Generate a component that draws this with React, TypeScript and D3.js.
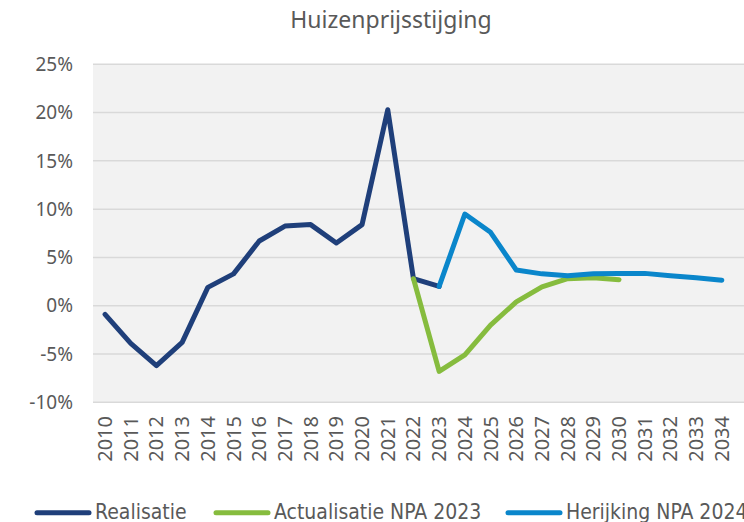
import React from "react";
import * as d3 from "d3";

const years = d3.range(2010, 2035).map(String);
const yTicks = [-10, -5, 0, 5, 10, 15, 20, 25];

const realisatieYears = years.slice(0, 14); // 2010-2023
const realisatie = [-0.9, -3.9, -6.2, -3.8, 1.9, 3.3, 6.7, 8.25, 8.4, 6.5, 8.4, 20.3, 2.8, 2.0];

const actualisatieYears = years.slice(12, 21); // 2022-2030
const actualisatie = [2.8, -6.8, -5.1, -2.0, 0.4, 1.95, 2.8, 2.9, 2.7];

const herijkingYears = years.slice(13); // 2023-2034
const herijking = [2.0, 9.5, 7.6, 3.7, 3.3, 3.1, 3.3, 3.35, 3.35, 3.1, 2.9, 2.65];

const series = [
  { name: "Realisatie", color: "#1f3f7a", years: realisatieYears, values: realisatie, legendX: 35, textX: 95 },
  { name: "Actualisatie NPA 2023", color: "#86bc3e", years: actualisatieYears, values: actualisatie, legendX: 214, textX: 274 },
  { name: "Herijking NPA 2024", color: "#0a86cb", years: herijkingYears, values: herijking, legendX: 506, textX: 566 },
];

const W = 744;
const H = 522;
const plotLeft = 93;
const plotTop = 64.3;
const plotBottom = 402.3;

export default function App() {
  const x = d3.scaleBand<string>().domain(years).range([92.2, 734.7]);
  const y = d3.scaleLinear().domain([-10, 25]).range([plotBottom, plotTop]);
  const cx = (yr: string) => (x(yr) ?? 0) + x.bandwidth() / 2;

  const textColor = "#595959";

  return (
    <svg
      width={W}
      height={H}
      style={{ position: "absolute", left: 0, top: 0, background: "#fff" }}
      fontFamily="'Noto Sans', 'Open Sans', sans-serif"
    >
      <text x={391} y={27.5} textAnchor="middle" fontSize={23} fill={textColor}>
        Huizenprijsstijging
      </text>

      <rect x={plotLeft} y={plotTop} width={W - plotLeft} height={plotBottom - plotTop} fill="#f2f2f2" />

      {yTicks.map((t) => (
        <g key={t}>
          <line x1={plotLeft} x2={W} y1={y(t)} y2={y(t)} stroke="#d9d9d9" strokeWidth={1.5} />
          <text x={73} y={y(t)} dy="0.35em" textAnchor="end" fontSize={19} fill={textColor}>
            {t}%
          </text>
        </g>
      ))}

      {years.map((yr) => (
        <text
          key={yr}
          transform={`translate(${cx(yr)},${416}) rotate(-90)`}
          textAnchor="end"
          dy="0.35em"
          fontSize={20}
          fill={textColor}
        >
          {yr}
        </text>
      ))}

      {series.map((s) => {
        const line = d3
          .line<number>()
          .x((_, i) => cx(s.years[i]))
          .y((v) => y(v));
        return (
          <path
            key={s.name}
            d={line(s.values) ?? ""}
            fill="none"
            stroke={s.color}
            strokeWidth={5}
            strokeLinejoin="round"
            strokeLinecap="round"
          />
        );
      })}

      {series.map((s) => (
        <g key={s.name + "-legend"}>
          <line
            x1={s.legendX + 2}
            x2={s.legendX + 54}
            y1={512.7}
            y2={512.7}
            stroke={s.color}
            strokeWidth={5}
            strokeLinecap="round"
          />
          <text
            x={s.textX}
            y={519}
            fontSize={21}
            fill={textColor}
            fontFamily="'DejaVu Sans Condensed', 'DejaVu Sans', sans-serif"
            style={{ fontStretch: "condensed" }}
          >
            {s.name}
          </text>
        </g>
      ))}
    </svg>
  );
}
